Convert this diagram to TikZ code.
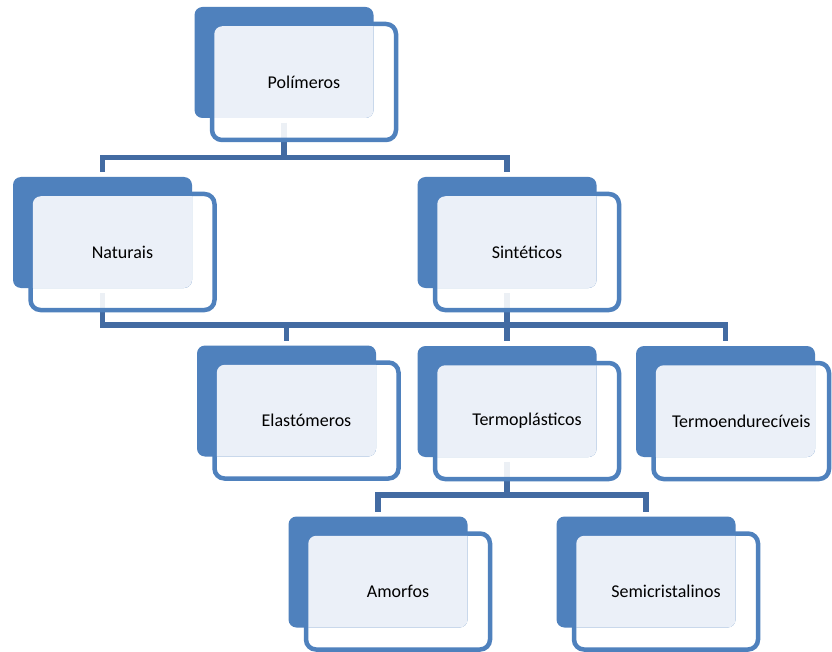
\documentclass[tikz,border=0pt]{standalone}
\usepackage{fontspec}
\setmainfont{Carlito}
\usetikzlibrary{calc}
\definecolor{boxblue}{HTML}{4F81BD}
\definecolor{linkblue}{HTML}{436BA2}
\definecolor{lightfill}{HTML}{EBF0F8}
\pgfdeclarelayer{bg}
\pgfsetlayers{bg,main}
\tikzset{
  backbox/.style={rectangle, fill=boxblue, rounded corners=8pt, minimum width=179pt, minimum height=111pt, inner sep=0pt, outer sep=0pt},
  frontbox/.style={rectangle, fill=white, fill opacity=0.9, draw=boxblue, draw opacity=1, line width=4.5pt, rounded corners=10pt, minimum height=116pt, inner sep=0pt, outer sep=0pt},
  txt/.style={font=\fontsize{18}{21}\selectfont, text=black, inner sep=0pt},
  conn/.style={draw=linkblue, line width=5.5pt}
}
% #1 front width, #2 name, #3 x, #4 y (back centre), #5 text
\newcommand\polybox[5][184]{%
  \node[frontbox, minimum width=#1pt] (#2) at ($(#3,#4)+(-72+#1/2,19.5)$) {};
  \node[backbox] (#2-b) at (#3,#4) {};
  \begin{scope}
    \clip[rounded corners=8pt] (#2-b.south west) rectangle (#2-b.north east);
    \fill[lightfill, rounded corners=8pt] ([xshift=2.25pt,yshift=2.25pt]#2.south west) rectangle ([xshift=-2.25pt,yshift=-2.25pt]#2.north east);
  \end{scope}
  \node[txt] (#2-t) at (#2) {#5};
}
\begin{document}
\begin{tikzpicture}[x=1pt,y=-1pt]
\useasboundingbox (0,0) rectangle (832,652);

\polybox{pol}{284}{62.5}{Polímeros}
\polybox{nat}{102.5}{232.5}{Naturais}
\polybox{sin}{507}{232.5}{Sintéticos}
\polybox{ela}{286.5}{401}{Elastómeros}
\polybox{ter}{507}{401.5}{Termoplásticos}
\polybox[175.5]{tmd}{725.5}{401.5}{Termoendurecíveis}
\polybox{amo}{378}{572}{Amorfos}
\polybox{sem}{646}{572}{Semicristalinos}

\coordinate (bus1) at (0,157.5);
\coordinate (bus2) at (0,325);
\coordinate (bus3) at (0,495);

\begin{pgfonlayer}{bg}
  \fill[white] (0,0) rectangle (832,652);
  % level 1
  \draw[conn] ([yshift=-5pt]pol-b.south) -- (pol-b.south |- bus1);
  \draw[conn] ([yshift=5pt]nat-b.north) -- (nat-b.north |- bus1) -- (sin-b.north |- bus1) -- ([yshift=5pt]sin-b.north);
  % level 2
  \draw[conn] ([yshift=-5pt]nat-b.south) -- (nat-b.south |- bus2) -- (tmd-b.north |- bus2) -- ([yshift=5pt]tmd-b.north);
  \draw[conn] ([yshift=-5pt]sin-b.south) -- ([yshift=5pt]ter-b.north);
  \draw[conn] (ela-b.north |- bus2) -- ([yshift=5pt]ela-b.north);
  % level 3
  \draw[conn] ([yshift=-5pt]ter-b.south) -- (ter-b.south |- bus3);
  \draw[conn] ([yshift=5pt]amo-b.north) -- (amo-b.north |- bus3) -- (sem-b.north |- bus3) -- ([yshift=5pt]sem-b.north);
\end{pgfonlayer}
\end{tikzpicture}
\end{document}
